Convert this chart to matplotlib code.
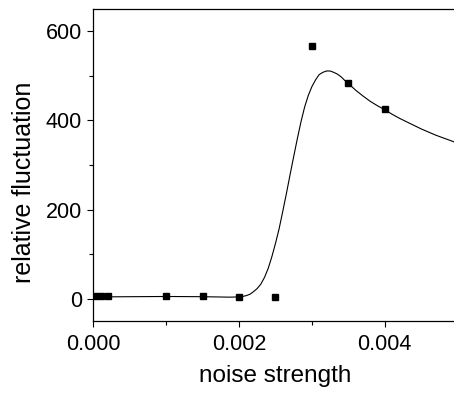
import matplotlib
matplotlib.use("Agg")
import matplotlib.pyplot as plt
from matplotlib.ticker import MultipleLocator

plt.rcParams['font.family'] = ['Liberation Sans', 'DejaVu Sans']

# measured points
noise = [0.00002, 0.0001, 0.0002, 0.001, 0.0015, 0.002, 0.0025, 0.003, 0.0035, 0.004]
fluct = [5, 5, 5, 7, 6, 3, 4, 566, 485, 425]

# fitted curve
fit_x = [0.0, 0.0005, 0.001, 0.0015, 0.00187, 0.002, 0.00205, 0.0021, 0.00215, 0.0022,
         0.00225, 0.0023, 0.00235, 0.0024, 0.00245, 0.0025, 0.00255, 0.0026, 0.00265,
         0.0027, 0.00275, 0.0028, 0.00285, 0.0029, 0.00295, 0.003, 0.00305, 0.0031,
         0.00315, 0.0032, 0.00325, 0.0033, 0.00335, 0.0034, 0.00345, 0.0035, 0.0036,
         0.0037, 0.0038, 0.0039, 0.004, 0.0041, 0.0042, 0.0043, 0.0044, 0.0045, 0.0046,
         0.0047, 0.0048, 0.00495]
fit_y = [4, 4.5, 5, 4.5, 3.5, 4, 5, 7, 10, 16,
         23, 33, 48, 68, 94, 124, 157, 196, 236,
         278, 319, 359, 397, 430, 456, 476, 491, 503,
         508, 511, 511, 508, 504, 498, 490, 483, 468,
         455, 443, 433, 424, 414, 405, 397, 389, 381, 374,
         367, 361, 352]

fig = plt.figure(figsize=(4.54, 3.94), dpi=100)
ax = fig.add_axes([0.2055, 0.1853, 0.7945, 0.7917])

ax.plot(fit_x, fit_y, color='black', lw=0.8)
ax.plot(noise, fluct, 's', color='black', markersize=4.5)

ax.set_xlim(0, 0.00495)
ax.set_ylim(-50, 650)
ax.xaxis.set_major_locator(MultipleLocator(0.002))
ax.xaxis.set_minor_locator(MultipleLocator(0.001))
ax.yaxis.set_major_locator(MultipleLocator(200))
ax.yaxis.set_minor_locator(MultipleLocator(100))
ax.xaxis.set_major_formatter(plt.FormatStrFormatter('%.3f'))

ax.spines['right'].set_visible(False)
for s in ['left', 'bottom', 'top']:
    ax.spines[s].set_linewidth(0.9)
ax.tick_params(which='major', direction='out', length=4.3, width=0.8, labelsize=15.5)
ax.tick_params(which='minor', direction='out', length=2.6, width=0.8)
ax.tick_params(axis='y', which='major', pad=3.8)
ax.tick_params(axis='x', which='major', pad=5)
ax.tick_params(top=False, which='both')

ax.set_xlabel('noise strength', fontsize=17.5)
ax.set_ylabel('relative fluctuation', fontsize=18)
ax.xaxis.set_label_coords(0.504, -0.14)
ax.yaxis.set_label_coords(-0.16, 0.444)

fig.savefig('out.png', dpi=100)
